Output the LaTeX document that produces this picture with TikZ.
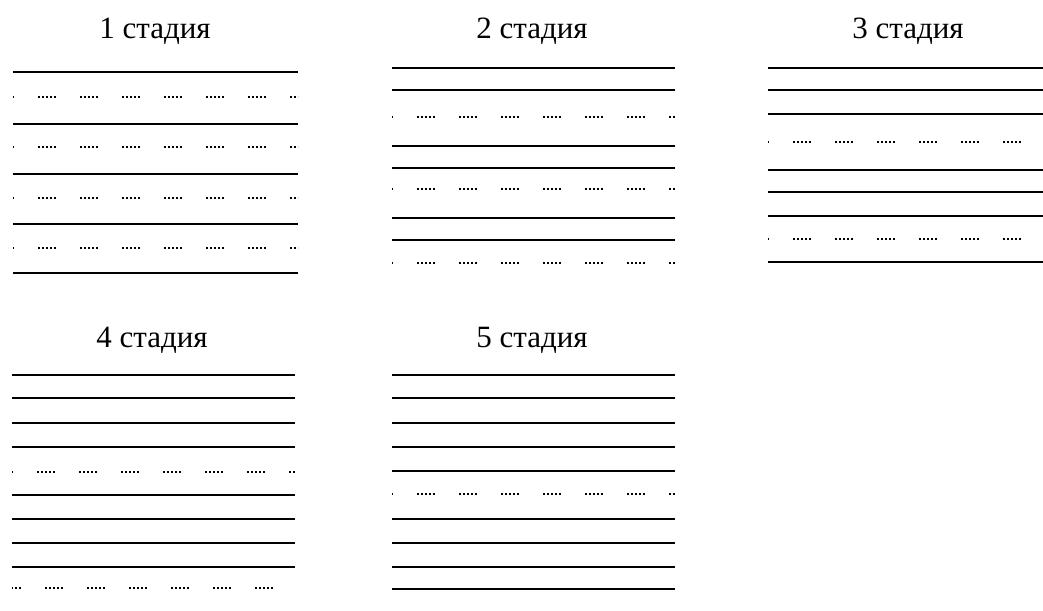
\documentclass[tikz,border=0pt]{standalone}
\usepackage{fontspec}
\setmainfont{Liberation Serif}
\begin{document}
\begin{tikzpicture}[x=1pt,y=-1pt,
  solidline/.style={line width=1.7pt},
  dotline/.style={line width=1.4pt, dash pattern=on 2pt off 2pt on 2pt off 2pt on 2pt off 2pt on 2pt off 2pt on 2pt off 24pt, dash phase=17pt},
  stagetitle/.style={anchor=base, inner sep=0pt, font=\fontsize{31}{36}\selectfont}]
\useasboundingbox (0,0) rectangle (1043,610);
% titles
\node[stagetitle] (t1) at (155,39) {1 стадия};
\node[stagetitle] (t2) at (532,39) {2 стадия};
\node[stagetitle] (t3) at (908,39) {3 стадия};
\node[stagetitle] (t4) at (152,347) {4 стадия};
\node[stagetitle] (t5) at (532,347) {5 стадия};
% panel 1
\foreach \y in {72,124,174,224,273} \draw[solidline] (13,\y) -- (298,\y);
\foreach \y in {97,147,198,248} \draw[dotline] (13,\y) -- (298,\y);
% panel 2
\foreach \y in {68,90,146,168,218,240} \draw[solidline] (392,\y) -- (675,\y);
\foreach \y in {117,189,263} \draw[dotline] (392,\y) -- (675,\y);
% panel 3
\foreach \y in {68,90,114,170,192,216,262} \draw[solidline] (768,\y) -- (1043,\y);
\foreach \y in {142,239} \draw[dotline] (768,\y) -- (1043,\y);
% panel 4
\foreach \y in {375,398,423,447,495,519,543,567} \draw[solidline] (12,\y) -- (295,\y);
\draw[dotline] (12,472) -- (295,472);
\draw[dotline, dash phase=9pt] (12,588) -- (273,588);
% panel 5
\foreach \y in {375,398,423,447,471,519,543,567,589} \draw[solidline] (392,\y) -- (675,\y);
\draw[dotline] (392,494) -- (675,494);
\end{tikzpicture}
\end{document}
